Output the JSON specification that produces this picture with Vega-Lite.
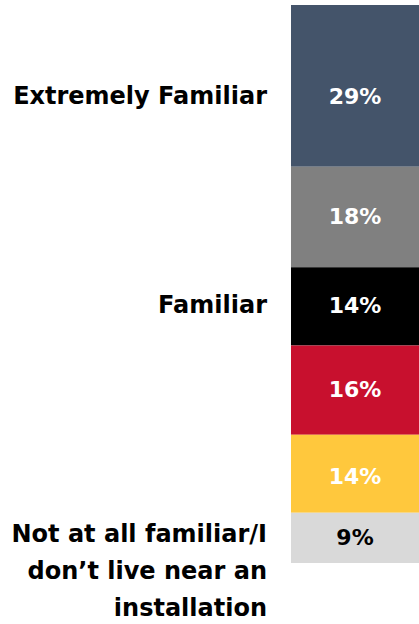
{
  "$schema": "https://vega.github.io/schema/vega-lite/v6.json",
  "width": 128,
  "height": 558,
  "autosize": {"type": "none"},
  "padding": {"left": 291, "top": 5, "right": 0, "bottom": 61},
  "background": "white",
  "config": {"view": {"stroke": null}, "font": "DejaVu Sans"},
  "datasets": {
    "segs": [
      {"cat": "Extremely Familiar", "start": 0, "end": 29, "pos": 16.5, "txt": "29%"},
      {"cat": "Very Familiar", "start": 29, "end": 47, "pos": 38, "txt": "18%"},
      {"cat": "Familiar", "start": 47, "end": 61, "pos": 54, "txt": "14%"},
      {"cat": "Somewhat Familiar", "start": 61, "end": 77, "pos": 69, "txt": "16%"},
      {"cat": "Slightly Familiar", "start": 77, "end": 91, "pos": 84.5, "txt": "14%"},
      {"cat": "Not at all familiar", "start": 91, "end": 100, "pos": 95.5, "txt": "9%"}
    ],
    "labels": [
      {"label": "Extremely Familiar", "pos": 16.5},
      {"label": "Familiar", "pos": 54},
      {"label": "Not at all familiar/I\ndon’t live near an\ninstallation", "pos": 95}
    ]
  },
  "layer": [
    {
      "data": {"name": "segs"},
      "mark": {"type": "bar"},
      "encoding": {
        "x": {"datum": 0, "type": "quantitative", "scale": {"domain": [0, 1]}, "axis": null},
        "x2": {"datum": 1},
        "y": {"field": "start", "type": "quantitative", "scale": {"domain": [0, 100], "reverse": true, "nice": false, "zero": false}, "axis": null},
        "y2": {"field": "end"},
        "color": {
          "field": "cat", "type": "nominal", "legend": null,
          "scale": {
            "domain": ["Extremely Familiar", "Very Familiar", "Familiar", "Somewhat Familiar", "Slightly Familiar", "Not at all familiar"],
            "range": ["#44546a", "#808080", "#000000", "#c8102e", "#ffc83d", "#d9d9d9"]
          }
        }
      }
    },
    {
      "data": {"name": "segs"},
      "mark": {"type": "text", "fontSize": 22, "fontWeight": "bold", "align": "center", "baseline": "middle"},
      "encoding": {
        "x": {"datum": 0.5, "type": "quantitative"},
        "y": {"field": "pos", "type": "quantitative"},
        "text": {"field": "txt"},
        "color": {"condition": {"test": "datum.cat === 'Not at all familiar'", "value": "#000000"}, "value": "#ffffff"}
      }
    },
    {
      "data": {"name": "labels"},
      "mark": {"type": "text", "fontSize": 24, "fontWeight": "bold", "align": "right", "baseline": "middle", "dx": -24, "lineBreak": "\n", "lineHeight": 37, "color": "#000000"},
      "encoding": {
        "x": {"datum": 0, "type": "quantitative"},
        "y": {"field": "pos", "type": "quantitative"},
        "text": {"field": "label"}
      }
    }
  ]
}
